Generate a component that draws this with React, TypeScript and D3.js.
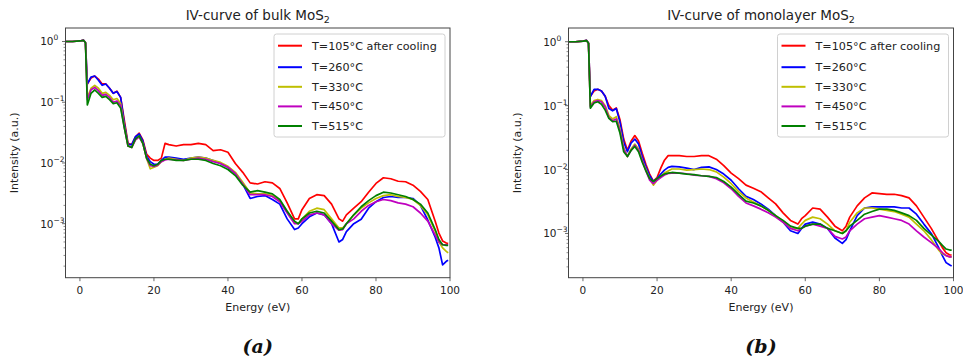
import React from "react";
import * as d3 from "d3";

// Energy grid (eV) shared by all series
const energy = [-4, -2, 0, 1, 1.5, 2, 3, 4, 5, 6, 7, 8, 9, 10, 11, 12, 13, 14, 15, 16, 17, 18, 19, 20, 21, 22, 23, 24, 26, 28, 30, 32, 34, 36, 38, 40, 42, 44, 46, 48, 50, 52, 54, 56, 58, 59, 60, 62, 64, 66, 68, 70, 71, 72, 74, 76, 78, 80, 82, 84, 86, 88, 90, 92, 94, 96, 97, 98, 99, 99.5];

// Bulk MoS2
const bulkRed = [1.0, 1.0, 1.02, 1.05, 0.95, 0.2, 0.25, 0.27, 0.24, 0.2, 0.2, 0.17, 0.14, 0.152, 0.12, 0.05, 0.021, 0.02, 0.027, 0.031, 0.024, 0.014, 0.012, 0.011, 0.011, 0.012, 0.021, 0.02, 0.019, 0.02, 0.02, 0.021, 0.02, 0.016, 0.0165, 0.015, 0.0098, 0.007, 0.0047, 0.0045, 0.0049, 0.0047, 0.0038, 0.0022, 0.0012, 0.0012, 0.0017, 0.0026, 0.003, 0.0029, 0.0021, 0.0012, 0.0011, 0.0014, 0.0018, 0.0023, 0.0033, 0.0046, 0.0057, 0.0055, 0.005, 0.0049, 0.0043, 0.0034, 0.0025, 0.0011, 0.0007, 0.00052, 0.00048, 0.00047];
const bulkBlue = [1.0, 1.0, 1.02, 1.05, 0.95, 0.2, 0.26, 0.27, 0.23, 0.19, 0.2, 0.17, 0.14, 0.15, 0.12, 0.045, 0.02, 0.02, 0.027, 0.03, 0.023, 0.013, 0.0105, 0.0095, 0.0095, 0.011, 0.0125, 0.0125, 0.012, 0.0115, 0.012, 0.0125, 0.012, 0.011, 0.0098, 0.0085, 0.0068, 0.0045, 0.0026, 0.0028, 0.0029, 0.0025, 0.0021, 0.0012, 0.0008, 0.00085, 0.001, 0.0013, 0.0015, 0.0014, 0.001, 0.0005, 0.00055, 0.00074, 0.001, 0.00118, 0.0018, 0.0023, 0.0027, 0.0028, 0.0027, 0.0027, 0.0026, 0.002, 0.00115, 0.0006, 0.0004, 0.00021, 0.00024, 0.00025];
const bulkYellow = [1.0, 1.0, 1.02, 1.04, 0.95, 0.12, 0.17, 0.19, 0.17, 0.14, 0.145, 0.13, 0.11, 0.115, 0.095, 0.04, 0.019, 0.018, 0.024, 0.027, 0.021, 0.012, 0.008, 0.0085, 0.009, 0.0105, 0.0115, 0.012, 0.0115, 0.011, 0.012, 0.0125, 0.012, 0.011, 0.0102, 0.0088, 0.007, 0.0048, 0.0032, 0.0031, 0.0031, 0.0029, 0.0024, 0.0016, 0.00105, 0.001, 0.0012, 0.0016, 0.0018, 0.0017, 0.0012, 0.00085, 0.00085, 0.001, 0.0014, 0.0018, 0.0022, 0.0026, 0.0029, 0.003, 0.0028, 0.0027, 0.0025, 0.002, 0.0014, 0.00075, 0.0005, 0.0004, 0.00035, 0.00033];
const bulkMagenta = [1.0, 1.0, 1.02, 1.04, 0.95, 0.11, 0.16, 0.175, 0.155, 0.13, 0.135, 0.12, 0.1, 0.105, 0.088, 0.038, 0.019, 0.018, 0.024, 0.027, 0.021, 0.012, 0.009, 0.0088, 0.0092, 0.0105, 0.0112, 0.0115, 0.0112, 0.011, 0.0115, 0.012, 0.0115, 0.0105, 0.0098, 0.0085, 0.0067, 0.0045, 0.003, 0.003, 0.003, 0.0028, 0.0023, 0.0015, 0.001, 0.001, 0.0011, 0.0014, 0.0015, 0.0014, 0.001, 0.00078, 0.0008, 0.001, 0.0012, 0.0016, 0.002, 0.0023, 0.0025, 0.0024, 0.0022, 0.0021, 0.0019, 0.0015, 0.0011, 0.00065, 0.0005, 0.00045, 0.00045, 0.00045];
const bulkGreen = [1.0, 1.0, 1.02, 1.04, 0.95, 0.09, 0.14, 0.16, 0.14, 0.12, 0.125, 0.11, 0.095, 0.098, 0.08, 0.038, 0.019, 0.018, 0.025, 0.028, 0.021, 0.012, 0.0095, 0.009, 0.0095, 0.011, 0.0115, 0.0115, 0.011, 0.011, 0.0115, 0.0115, 0.011, 0.0098, 0.009, 0.0078, 0.0062, 0.0043, 0.0033, 0.0035, 0.0033, 0.0031, 0.0025, 0.0016, 0.0011, 0.001, 0.0012, 0.0015, 0.0016, 0.0015, 0.0011, 0.0008, 0.00082, 0.001, 0.0014, 0.0019, 0.0024, 0.0029, 0.0033, 0.0032, 0.003, 0.0028, 0.0025, 0.0021, 0.0015, 0.0008, 0.00055, 0.00045, 0.00044, 0.00044];

// Monolayer MoS2
const monoRed = [1.0, 1.0, 1.02, 1.05, 0.95, 0.14, 0.17, 0.18, 0.17, 0.14, 0.1, 0.085, 0.092, 0.06, 0.03, 0.02, 0.028, 0.034, 0.028, 0.018, 0.012, 0.0085, 0.0066, 0.0075, 0.0105, 0.014, 0.0165, 0.0165, 0.0165, 0.016, 0.016, 0.0165, 0.0165, 0.0145, 0.0115, 0.0088, 0.0072, 0.0057, 0.0051, 0.0045, 0.0036, 0.0029, 0.0021, 0.0016, 0.0014, 0.0017, 0.0019, 0.0025, 0.0024, 0.0018, 0.0013, 0.0011, 0.0013, 0.0018, 0.0027, 0.0036, 0.0043, 0.0042, 0.0041, 0.0041, 0.0039, 0.0036, 0.0027, 0.0018, 0.0012, 0.00075, 0.0006, 0.0005, 0.00046, 0.00046];
const monoBlue = [1.0, 1.0, 1.02, 1.05, 0.95, 0.138, 0.18, 0.18, 0.17, 0.14, 0.09, 0.083, 0.09, 0.055, 0.027, 0.019, 0.026, 0.03, 0.025, 0.016, 0.011, 0.008, 0.0065, 0.0072, 0.0085, 0.0098, 0.0108, 0.0112, 0.011, 0.0105, 0.01, 0.0108, 0.011, 0.01, 0.0085, 0.0068, 0.005, 0.0038, 0.0034, 0.0029, 0.0024, 0.0019, 0.0015, 0.0011, 0.001, 0.0012, 0.0014, 0.0015, 0.0014, 0.0012, 0.00085, 0.0007, 0.0008, 0.0011, 0.0019, 0.0025, 0.0026, 0.0026, 0.0026, 0.0026, 0.0025, 0.0025, 0.002, 0.0014, 0.001, 0.0006, 0.00045, 0.00035, 0.00032, 0.00031];
const monoYellow = [1.0, 1.0, 1.02, 1.04, 0.95, 0.1, 0.12, 0.125, 0.12, 0.1, 0.07, 0.062, 0.067, 0.043, 0.022, 0.016, 0.021, 0.025, 0.021, 0.014, 0.01, 0.0072, 0.0057, 0.0068, 0.0078, 0.0088, 0.0095, 0.0102, 0.0102, 0.0098, 0.01, 0.0102, 0.01, 0.0092, 0.0076, 0.006, 0.0045, 0.0036, 0.0031, 0.0027, 0.0023, 0.0019, 0.0015, 0.0012, 0.0012, 0.0014, 0.0016, 0.0018, 0.0017, 0.0014, 0.0011, 0.001, 0.0011, 0.0015, 0.0021, 0.0025, 0.0025, 0.0024, 0.0023, 0.0022, 0.002, 0.0018, 0.0014, 0.0011, 0.0008, 0.00055, 0.00048, 0.00045, 0.00043, 0.00043];
const monoMagenta = [1.0, 1.0, 1.02, 1.04, 0.95, 0.095, 0.115, 0.12, 0.115, 0.095, 0.065, 0.058, 0.062, 0.04, 0.021, 0.016, 0.02, 0.024, 0.02, 0.014, 0.0095, 0.0068, 0.006, 0.0068, 0.0075, 0.0082, 0.0087, 0.0088, 0.0088, 0.0086, 0.0082, 0.008, 0.0078, 0.0072, 0.0062, 0.005, 0.0038, 0.003, 0.0027, 0.0024, 0.0021, 0.0018, 0.0015, 0.0012, 0.0011, 0.0012, 0.0013, 0.0014, 0.0013, 0.0012, 0.0009, 0.00082, 0.00088, 0.0011, 0.0014, 0.0017, 0.0018, 0.0019, 0.0018, 0.0017, 0.0016, 0.0014, 0.0011, 0.00088, 0.00072, 0.00058, 0.0005, 0.00045, 0.00043, 0.00043];
const monoGreen = [1.0, 1.0, 1.02, 1.04, 0.95, 0.091, 0.11, 0.115, 0.105, 0.085, 0.063, 0.056, 0.057, 0.037, 0.019, 0.016, 0.02, 0.023, 0.019, 0.013, 0.0095, 0.0072, 0.0065, 0.0072, 0.0079, 0.0085, 0.0088, 0.009, 0.0088, 0.0085, 0.0083, 0.008, 0.0078, 0.0075, 0.0065, 0.0053, 0.0041, 0.0032, 0.003, 0.0027, 0.0023, 0.0019, 0.0016, 0.0013, 0.0012, 0.0012, 0.0013, 0.0014, 0.0014, 0.0012, 0.0011, 0.001, 0.0011, 0.0013, 0.0016, 0.002, 0.0022, 0.0024, 0.0024, 0.0023, 0.0021, 0.0019, 0.0016, 0.0012, 0.00095, 0.00075, 0.00065, 0.00057, 0.00055, 0.00055];

const seriesLabels = ["T=105°C after cooling", "T=260°C", "T=330°C", "T=450°C", "T=515°C"];
const seriesColors = ["#ff0000", "#0000ff", "#bfbf00", "#bf00bf", "#008000"];
const xTicks = [0, 20, 40, 60, 80, 100];
const yMajorExp = [0, -1, -2, -3];

const FONT = "DejaVu Sans, sans-serif";

type PanelProps = {
  x0: number;
  x1: number;
  yMin: number;
  yMax: number;
  data: number[][];
  titleMain: string;
  caption: string;
};

function Panel({ x0, x1, yMin, yMax, data, titleMain, caption }: PanelProps) {
  const top = 28;
  const bottom = 277.7;
  const x = d3.scaleLinear().domain([-3.9, 100]).range([x0, x1]);
  const y = d3.scaleLog().domain([yMin, yMax]).range([bottom, top]);
  const line = d3
    .line<number>()
    .x((_, i) => x(energy[i]))
    .y((d) => y(d));
  const cx = (x0 + x1) / 2;
  const minor: number[] = [];
  for (let e = -5; e <= 0; e++) {
    for (let k = 2; k <= 9; k++) {
      const v = k * Math.pow(10, e);
      if (v > yMin && v < yMax) minor.push(v);
    }
  }
  const lx = x1 - 176;
  const ly = 34;
  const rowY = [45.7, 67.2, 86.8, 106.4, 126];
  return (
    <g>
      <text x={cx} y={20} textAnchor="middle" fontFamily={FONT} fontSize={13.5} fill="#222">
        {titleMain}
        <tspan>MoS</tspan>
        <tspan fontSize={9.5} dy={3}>2</tspan>
      </text>
      <defs>
        <clipPath id={"clip" + caption}>
          <rect x={x0} y={top} width={x1 - x0} height={bottom - top} />
        </clipPath>
      </defs>
      <g clipPath={`url(#clip${caption})`}>
        {data.map((s, i) => (
          <path key={i} d={line(s) || ""} fill="none" stroke={seriesColors[i]} strokeWidth={1.7} strokeLinejoin="round" />
        ))}
      </g>
      <rect x={x0} y={top} width={x1 - x0} height={bottom - top} fill="none" stroke="#444" strokeWidth={1} />
      {xTicks.map((t) => (
        <g key={t}>
          <line x1={x(t)} x2={x(t)} y1={bottom} y2={bottom + 3.5} stroke="#444" strokeWidth={0.8} />
          <text x={x(t)} y={bottom + 16} textAnchor="middle" fontFamily={FONT} fontSize={10.5} fill="#222">
            {t}
          </text>
        </g>
      ))}
      {yMajorExp.map((e) => (
        <g key={e}>
          <line x1={x0 - 3.5} x2={x0} y1={y(Math.pow(10, e))} y2={y(Math.pow(10, e))} stroke="#444" strokeWidth={0.8} />
          <text x={x0 - 12} y={y(Math.pow(10, e)) + 4} textAnchor="end" fontFamily={FONT} fontSize={10.5} fill="#222">
            10
          </text>
          <text x={x0 - 12} y={y(Math.pow(10, e)) - 1} textAnchor="start" fontFamily={FONT} fontSize={7.5} fill="#222">
            {e === 0 ? "0" : "\u2212" + String(-e)}
          </text>
        </g>
      ))}
      {minor.map((v, i) => (
        <line key={i} x1={x0 - 2} x2={x0} y1={y(v)} y2={y(v)} stroke="#444" strokeWidth={0.6} />
      ))}
      <text
        transform={`translate(${x0 - 48},${(top + bottom) / 2}) rotate(-90)`}
        textAnchor="middle"
        fontFamily={FONT}
        fontSize={11}
        fill="#222"
      >
        Intensity (a.u.)
      </text>
      <text x={cx} y={311} textAnchor="middle" fontFamily={FONT} fontSize={11} fill="#222">
        Energy (eV)
      </text>
      <g>
        <rect x={lx} y={ly} width={171} height={103} rx={2.5} fill="white" fillOpacity={0.8} stroke="#d0d0d0" strokeWidth={1} />
        {seriesLabels.map((lab, i) => (
          <g key={lab}>
            <line x1={lx + 4} x2={lx + 28} y1={rowY[i]} y2={rowY[i]} stroke={seriesColors[i]} strokeWidth={2} />
            <text x={lx + 38} y={rowY[i] + 4} fontFamily={FONT} fontSize={11.2} fill="#222">
              {lab}
            </text>
          </g>
        ))}
      </g>
      <text x={cx} y={353} textAnchor="middle" fontFamily="DejaVu Serif, serif" fontWeight="bold" fontStyle="italic" fontSize={19} fill="#111">
        ({caption})
      </text>
    </g>
  );
}

export default function App() {
  return (
    <svg width={963} height={362} style={{ position: "absolute", left: 0, top: 0, background: "white" }}>
      <rect width={963} height={362} fill="white" />
      <Panel
        x0={65.5}
        x1={450}
        yMin={1.29e-4}
        yMax={1.668}
        data={[bulkRed, bulkBlue, bulkYellow, bulkMagenta, bulkGreen]}
        titleMain="IV-curve of bulk "
        caption="a"
      />
      <Panel
        x0={568.5}
        x1={953.5}
        yMin={2.03e-4}
        yMax={1.64}
        data={[monoRed, monoBlue, monoYellow, monoMagenta, monoGreen]}
        titleMain="IV-curve of monolayer "
        caption="b"
      />
    </svg>
  );
}
